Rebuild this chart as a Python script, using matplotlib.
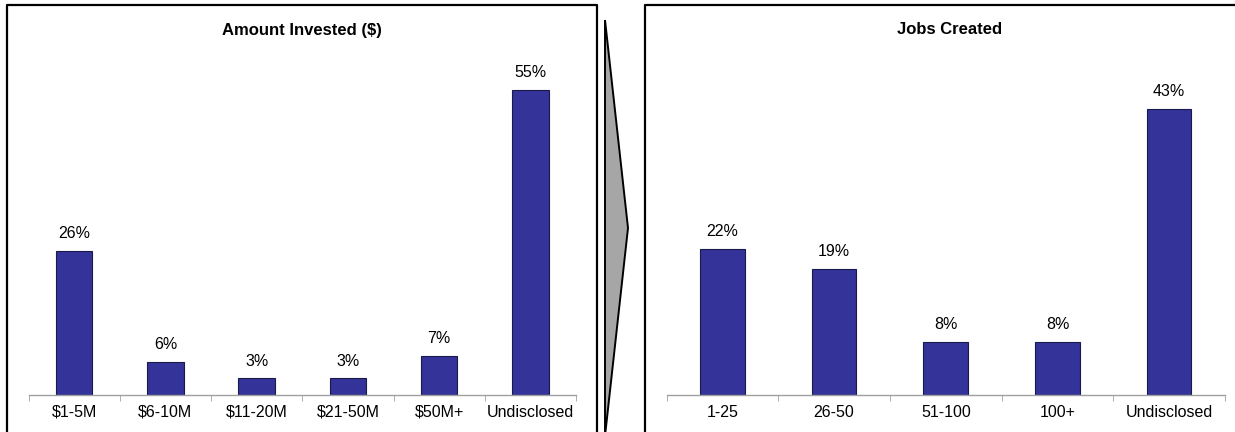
import matplotlib.pyplot as plt
from matplotlib.patches import Polygon
from matplotlib.lines import Line2D
import numpy as np

plt.rcParams['font.family'] = ['Liberation Sans', 'DejaVu Sans']

# data
invest_cats = ["$1-5M", "$6-10M", "$11-20M", "$21-50M", "$50M+", "Undisclosed"]
invest_pct = [26, 6, 3, 3, 7, 55]
jobs_cats = ["1-25", "26-50", "51-100", "100+", "Undisclosed"]
jobs_pct = [22, 19, 8, 8, 43]

W, H = 1235, 432
fig = plt.figure(figsize=(W / 100, H / 100), dpi=100)

bar_color = "#333399"
axis_gray = "#a0a0a0"


def px(x0, y0, x1, y1):
    # pixel box (top-left origin) -> figure fraction rect
    return [x0 / W, 1 - y1 / H, (x1 - x0) / W, (y1 - y0) / H]


def draw_panel(rect, cats, vals, ymax):
    ax = fig.add_axes(rect)
    x = np.arange(len(cats))
    ax.bar(x, vals, width=0.4, color=bar_color, edgecolor="#1a1a4d", linewidth=0.8)
    for xi, v in zip(x, vals):
        ax.annotate(f"{v}%", (xi, v), xytext=(0, 7), textcoords="offset points",
                    ha="center", va="bottom", fontsize=11.5)
    ax.set_xlim(-0.5, len(cats) - 0.5)
    ax.set_ylim(0, ymax)
    ax.set_xticks(x)
    ax.set_xticklabels(cats, fontsize=11.5)
    ax.set_xticks(np.arange(len(cats) + 1) - 0.5, minor=True)
    ax.tick_params(axis="x", which="major", length=0, pad=7)
    ax.tick_params(axis="x", which="minor", length=4, color=axis_gray, direction="out")
    ax.set_yticks([])
    for s in ["top", "right", "left"]:
        ax.spines[s].set_visible(False)
    ax.spines["bottom"].set_color(axis_gray)
    ax.spines["bottom"].set_linewidth(1)
    return ax


draw_panel(px(28.6, 62.4, 576, 395), invest_cats, invest_pct, 60)
draw_panel(px(666.6, 62.4, 1225, 395), jobs_cats, jobs_pct, 50)

# panel frames
def frame(x0, x1, y0, y1):
    pts = [(x0, y1), (x0, y0), (x1, y0), (x1, y1)]
    xs = [p[0] / W for p in pts]
    ys = [1 - p[1] / H for p in pts]
    fig.add_artist(Line2D(xs, ys, color="black", linewidth=1.6))


frame(7, 597, 5, 440)
frame(645, 1245, 5, 440)

fig.text(302 / W, 1 - 30 / H, "Amount Invested ($)", ha="center", va="center",
         fontsize=12, fontweight="bold")
fig.text(950 / W, 1 - 30 / H, "Jobs Created", ha="center", va="center",
         fontsize=12, fontweight="bold")

# gray chevron between panels
arrow = [(605, 20), (628, 228), (605, 436)]
fig.add_artist(Polygon([(p[0] / W, 1 - p[1] / H) for p in arrow], closed=True,
                       facecolor="#a6a6a6", edgecolor="black", linewidth=1.4))

fig.savefig("out.png", dpi=100)
